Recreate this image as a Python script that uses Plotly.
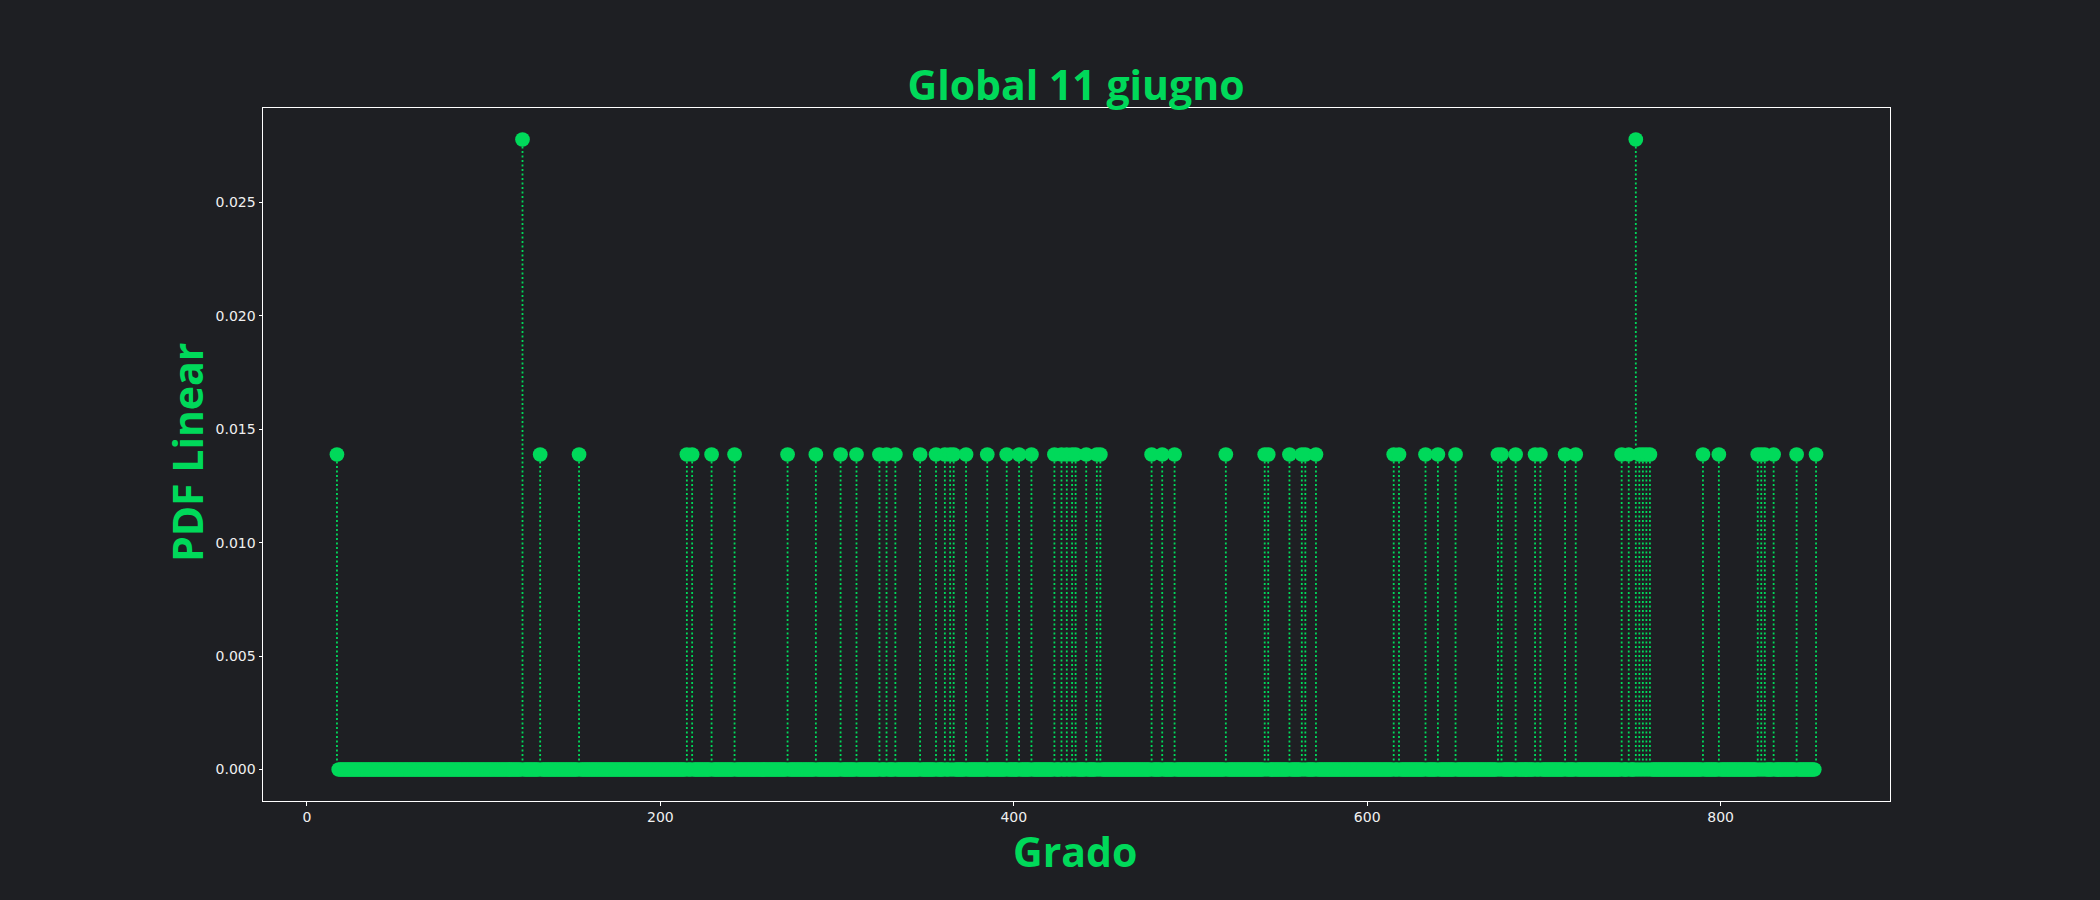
import plotly.graph_objects as go

# ---- data ----
grado_min = 17
grado_max = 854
spike_grado = [17, 122, 132, 154, 215, 218, 229, 242, 272, 288, 302, 311, 324, 328, 333,
               347, 356, 361, 364, 366, 373, 385, 396, 403, 410, 423, 427, 430, 433, 435,
               441, 447, 449, 478, 484, 491, 520, 542, 544, 556, 563, 565, 571, 615, 618,
               633, 640, 650, 674, 676, 684, 695, 698, 712, 718, 744, 748, 752, 754, 756,
               758, 760, 790, 799, 821, 823, 825, 830, 843, 854]
spike_pdf = [0.013889, 0.027778] + [0.013889] * 55 + [0.027778] + [0.013889] * 12
x_ticks = [0, 200, 400, 600, 800]
y_ticks = [0.0, 0.005, 0.010, 0.015, 0.020, 0.025]
title_text = "Global 11 giugno"
x_label = "Grado"
y_label = "PDF Linear"

lookup = dict(zip(spike_grado, spike_pdf))
grado = list(range(grado_min, grado_max + 1))
pdf = [lookup.get(g, 0.0) for g in grado]

GREEN = "#00d95a"
BG = "#1e1f23"
TITLE_FONT = "Open Sans"

stem_x, stem_y = [], []
for g, v in zip(grado, pdf):
    if v > 0:
        stem_x += [g, g, None]
        stem_y += [0, v, None]

fig = go.Figure()
fig.add_trace(go.Scatter(x=stem_x, y=stem_y, mode="lines",
                         line=dict(color=GREEN, width=1.8, dash="2px,2.5px"),
                         hoverinfo="skip", showlegend=False))
fig.add_trace(go.Scatter(x=grado, y=pdf, mode="markers",
                         marker=dict(color=GREEN, size=14.7, line=dict(width=0)),
                         showlegend=False))

axis_common = dict(showline=True, linecolor="white", linewidth=1, mirror=True,
                   ticks="outside", ticklen=3.5, tickwidth=1, tickcolor="white",
                   showgrid=False, zeroline=False,
                   tickfont=dict(family="DejaVu Sans", size=14, color="#f0f0f0"))

fig.update_layout(
    width=2100, height=900,
    paper_bgcolor=BG, plot_bgcolor=BG,
    margin=dict(l=263, r=210, t=108, b=99),
    xaxis=dict(range=[-24.85, 895.85], tickvals=x_ticks, **axis_common),
    yaxis=dict(range=[-0.001389, 0.029167], tickvals=y_ticks, tickformat=".3f", **axis_common),
    title=dict(text=title_text, font=dict(family=TITLE_FONT, size=41, color=GREEN, weight=700),
               xref="container", x=1076 / 2100, xanchor="center",
               yref="container", y=1 - 86 / 900, yanchor="middle"),
    annotations=[
        dict(text=x_label, xref="paper", yref="paper", x=(1075 - 263) / (1890 - 263),
             y=-(851 - 801) / (801 - 108), xanchor="center", yanchor="middle", showarrow=False,
             font=dict(family=TITLE_FONT, size=41, color=GREEN, weight=700)),
        dict(text=y_label, xref="paper", yref="paper", x=-(263 - 187) / (1890 - 263),
             y=(801 - 453) / (801 - 108), xanchor="center", yanchor="middle", showarrow=False,
             textangle=-90,
             font=dict(family=TITLE_FONT, size=41, color=GREEN, weight=700)),
    ],
)

fig.write_html("out.html")
